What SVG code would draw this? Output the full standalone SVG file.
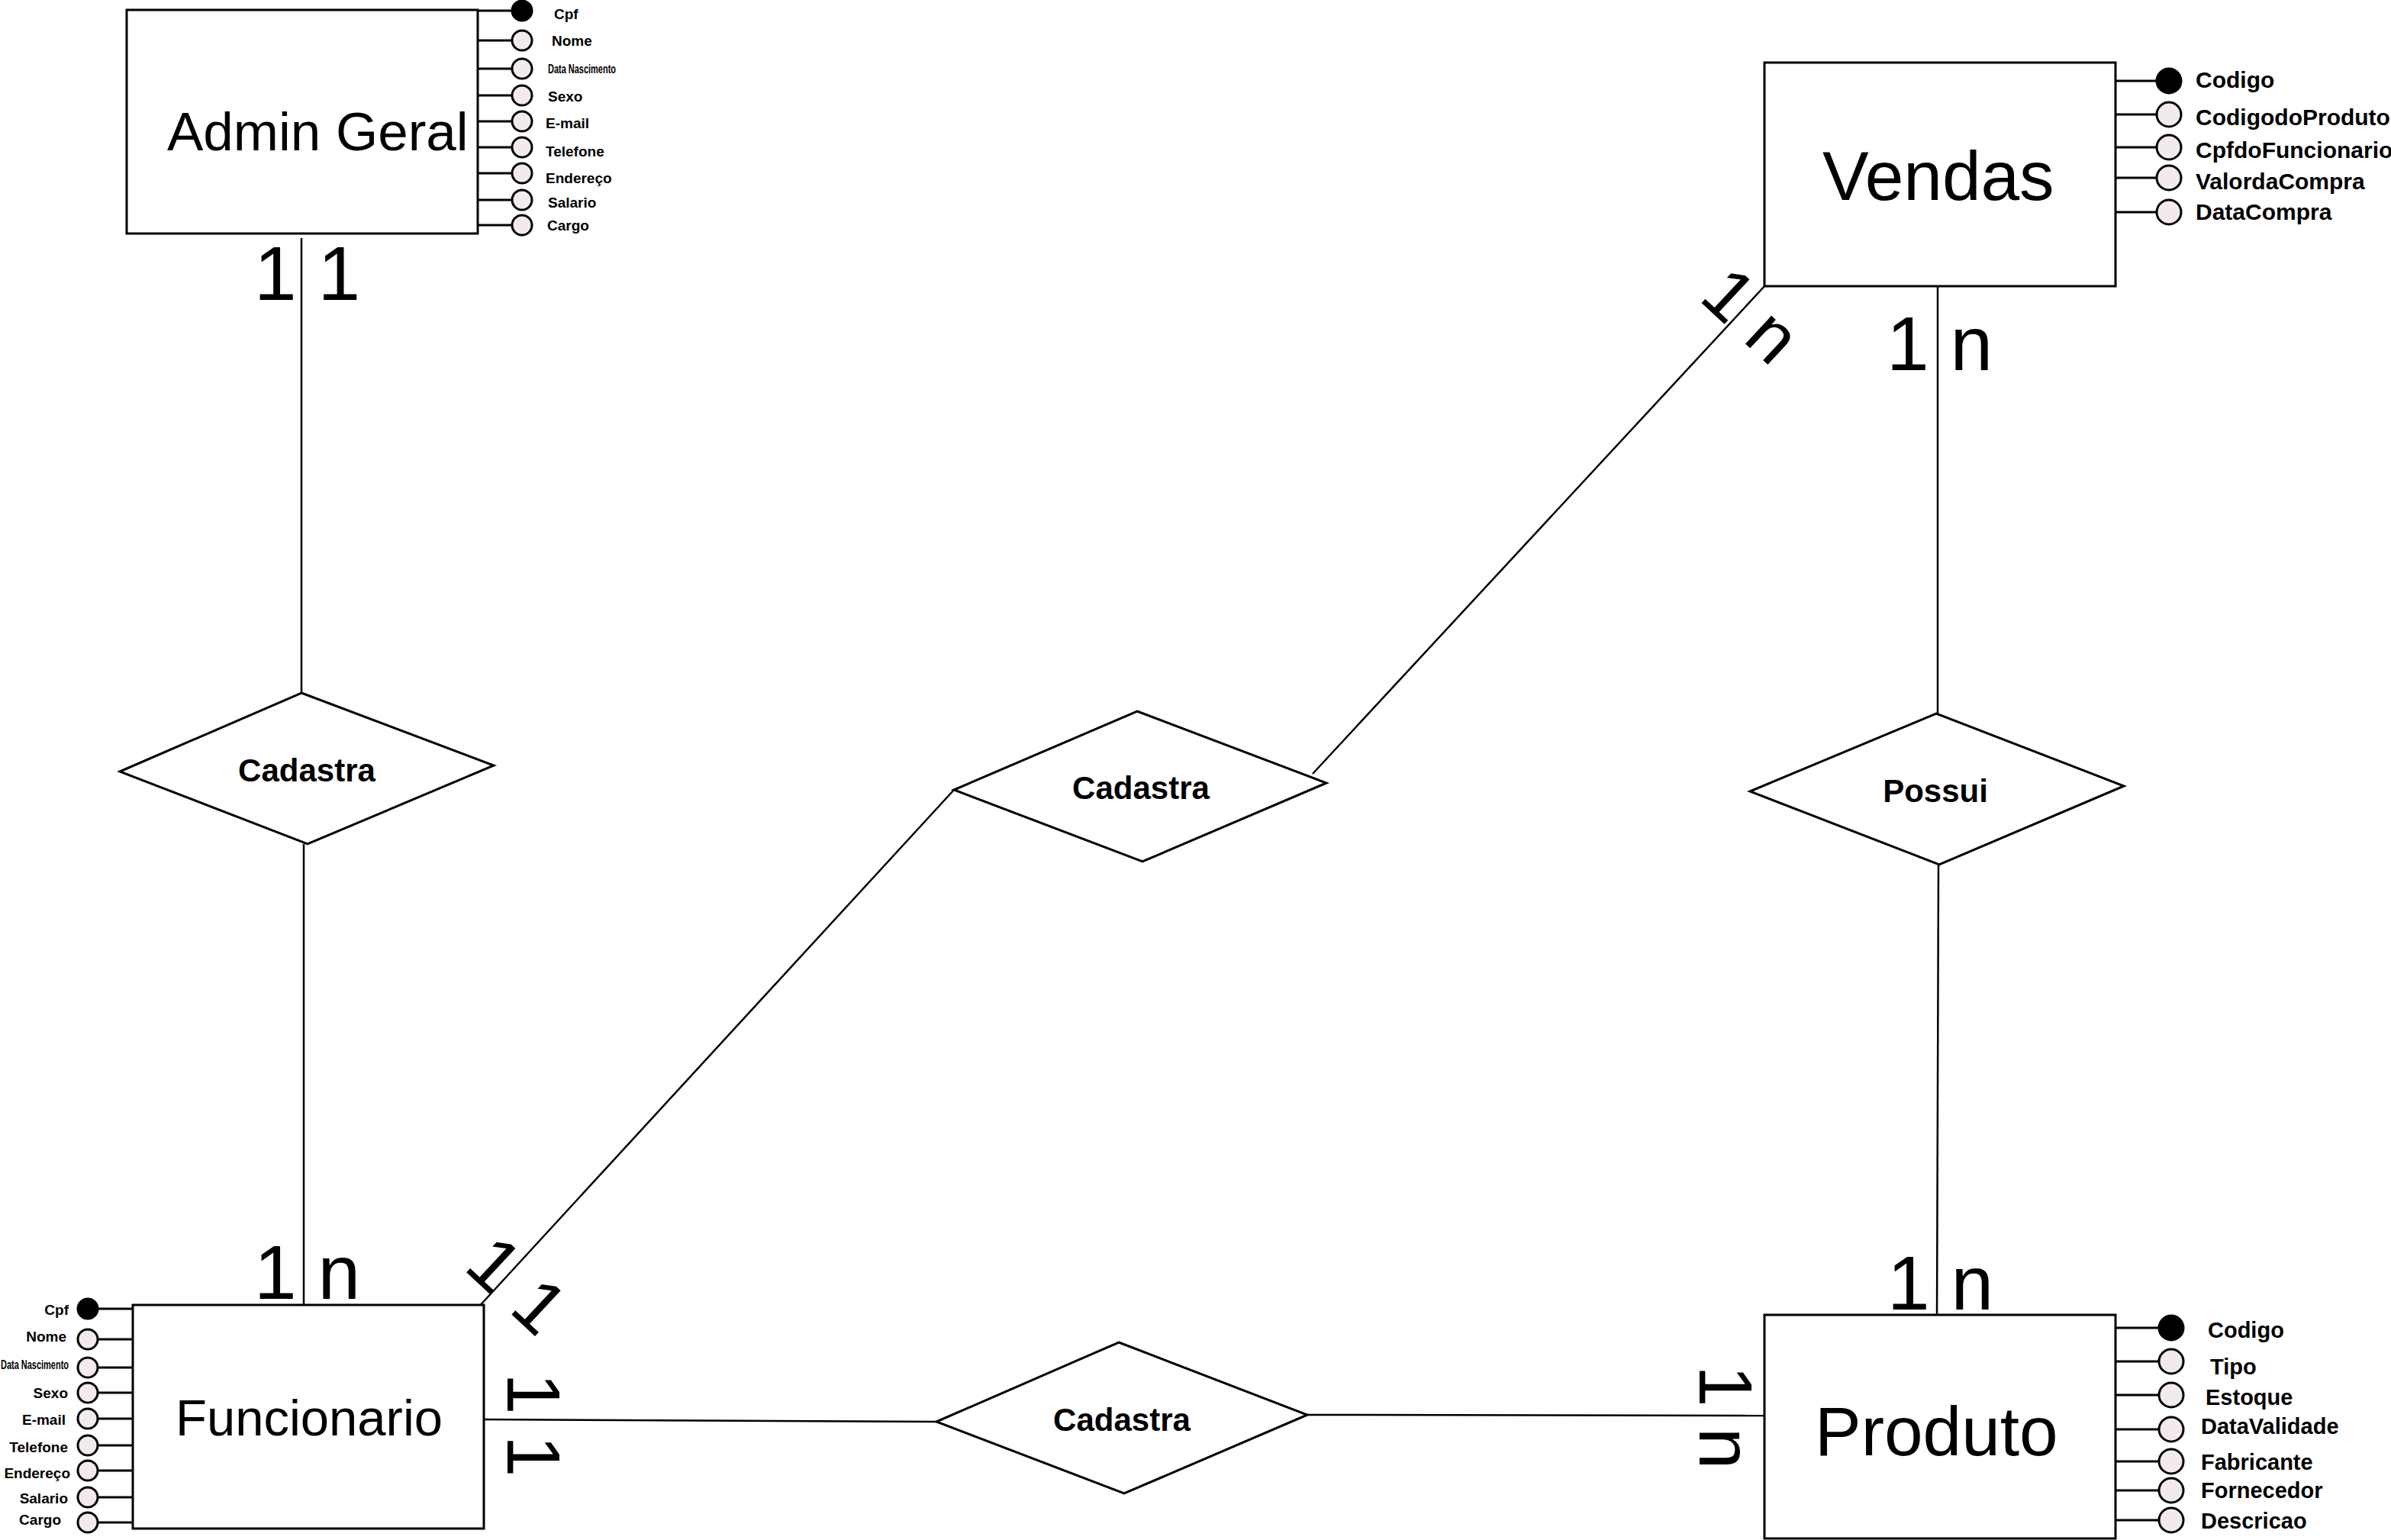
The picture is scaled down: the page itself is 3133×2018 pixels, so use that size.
<svg xmlns="http://www.w3.org/2000/svg" width="3133" height="2018" viewBox="0 0 3133 2018">
<style>
.box{fill:#fff;stroke:#000;stroke-width:3}
.dia{fill:#fff;stroke:#000;stroke-width:3}
.ln{stroke:#000;stroke-width:3;fill:none}
.con{stroke:#000;stroke-width:2.5;fill:none}
.att{fill:#f3ebeb;stroke:#000;stroke-width:3}
.key{fill:#000;stroke:#000;stroke-width:3}
.ent{font-family:"Liberation Sans",Arial,sans-serif;fill:#000}
.lbl{font-family:"Liberation Sans",Arial,sans-serif;font-weight:bold;fill:#000}
.card{font-family:"Liberation Sans",Arial,sans-serif;font-size:100px;fill:#000}
</style>
<rect width="3133" height="2018" fill="#fff"/>

<g id="connectors">
<line class="con" x1="395" y1="312" x2="395" y2="908"/>
<line class="con" x1="398" y1="1106" x2="398" y2="1710"/>
<line class="con" x1="625" y1="1715" x2="1250" y2="1035"/>
<line class="con" x1="1720" y1="1014" x2="2313" y2="374"/>
<line class="con" x1="2539" y1="375" x2="2539" y2="935"/>
<line class="con" x1="2540" y1="1133" x2="2538" y2="1734"/>
<line class="con" x1="632" y1="1860" x2="1227" y2="1863"/>
<line class="con" x1="1713" y1="1854" x2="2312" y2="1855"/>
</g>

<g id="cardinalities">
<text class="card" x="333" y="393">1 1</text>
<text class="card" x="333" y="1702">1 n</text>
<text class="card" x="2472" y="485">1 n</text>
<text class="card" x="2473" y="1716">1 n</text>
<text class="card" style="font-size:95px" text-anchor="middle" transform="translate(2293,415) rotate(43)" x="0" y="30">1 n</text>
<text class="card" style="font-size:97px" text-anchor="middle" transform="translate(676,1680) rotate(43)" x="4" y="35">1 1</text>
<text class="card" style="font-size:98px" transform="translate(665,1799) rotate(90)" x="0" y="0">1 1</text>
<text class="card" style="font-size:98px" transform="translate(2227,1789) rotate(90)" x="0" y="0">1 n</text>
</g>

<g id="admin-geral">
<rect class="box" x="166" y="13" width="460" height="293"/>
<text class="ent" x="219" y="197" font-size="71">Admin Geral</text>
<g class="attrs">
<line class="ln" x1="626" y1="14" x2="671" y2="14"/><ellipse class="key" cx="684" cy="14" rx="13" ry="13"/>
<line class="ln" x1="626" y1="53" x2="671" y2="53"/><ellipse class="att" cx="684" cy="53" rx="13" ry="13"/>
<line class="ln" x1="626" y1="90" x2="671" y2="90"/><ellipse class="att" cx="684" cy="90" rx="13" ry="13"/>
<line class="ln" x1="626" y1="125" x2="671" y2="125"/><ellipse class="att" cx="684" cy="125" rx="13" ry="13"/>
<line class="ln" x1="626" y1="159" x2="671" y2="159"/><ellipse class="att" cx="684" cy="159" rx="13" ry="13"/>
<line class="ln" x1="626" y1="193" x2="671" y2="193"/><ellipse class="att" cx="684" cy="193" rx="13" ry="13"/>
<line class="ln" x1="626" y1="227" x2="671" y2="227"/><ellipse class="att" cx="684" cy="227" rx="13" ry="13"/>
<line class="ln" x1="626" y1="262" x2="671" y2="262"/><ellipse class="att" cx="684" cy="262" rx="13" ry="13"/>
<line class="ln" x1="626" y1="295" x2="671" y2="295"/><ellipse class="att" cx="684" cy="295" rx="13" ry="13"/>
<text class="lbl" font-size="19" x="726" y="25">Cpf</text>
<text class="lbl" font-size="19" x="723" y="60">Nome</text>
<text class="lbl" font-size="17" x="718" y="96" textLength="89" lengthAdjust="spacingAndGlyphs">Data Nascimento</text>
<text class="lbl" font-size="19" x="718" y="133">Sexo</text>
<text class="lbl" font-size="19" x="715" y="168">E-mail</text>
<text class="lbl" font-size="19" x="715" y="205">Telefone</text>
<text class="lbl" font-size="19" x="715" y="240">Endereço</text>
<text class="lbl" font-size="19" x="718" y="272">Salario</text>
<text class="lbl" font-size="19" x="717" y="302">Cargo</text>
</g>
</g>

<g id="funcionario">
<rect class="box" x="174" y="1710" width="460" height="293"/>
<text class="ent" x="230" y="1881" font-size="67">Funcionario</text>
<g class="attrs">
<line class="ln" x1="128" y1="1715" x2="174" y2="1715"/><ellipse class="key" cx="115" cy="1715" rx="13" ry="13"/>
<line class="ln" x1="128" y1="1755" x2="174" y2="1755"/><ellipse class="att" cx="115" cy="1755" rx="13" ry="13"/>
<line class="ln" x1="128" y1="1792" x2="174" y2="1792"/><ellipse class="att" cx="115" cy="1792" rx="13" ry="13"/>
<line class="ln" x1="128" y1="1825" x2="174" y2="1825"/><ellipse class="att" cx="115" cy="1825" rx="13" ry="13"/>
<line class="ln" x1="128" y1="1859" x2="174" y2="1859"/><ellipse class="att" cx="115" cy="1859" rx="13" ry="13"/>
<line class="ln" x1="128" y1="1894" x2="174" y2="1894"/><ellipse class="att" cx="115" cy="1894" rx="13" ry="13"/>
<line class="ln" x1="128" y1="1927" x2="174" y2="1927"/><ellipse class="att" cx="115" cy="1927" rx="13" ry="13"/>
<line class="ln" x1="128" y1="1962" x2="174" y2="1962"/><ellipse class="att" cx="115" cy="1962" rx="13" ry="13"/>
<line class="ln" x1="128" y1="1995" x2="174" y2="1995"/><ellipse class="att" cx="115" cy="1995" rx="13" ry="13"/>
<text class="lbl" font-size="19" text-anchor="end" x="90" y="1723">Cpf</text>
<text class="lbl" font-size="19" text-anchor="end" x="87" y="1758">Nome</text>
<text class="lbl" font-size="17" x="1" y="1794" textLength="89" lengthAdjust="spacingAndGlyphs">Data Nascimento</text>
<text class="lbl" font-size="19" text-anchor="end" x="89" y="1832">Sexo</text>
<text class="lbl" font-size="19" text-anchor="end" x="86" y="1867">E-mail</text>
<text class="lbl" font-size="19" text-anchor="end" x="89" y="1903">Telefone</text>
<text class="lbl" font-size="19" text-anchor="end" x="92" y="1937">Endereço</text>
<text class="lbl" font-size="19" text-anchor="end" x="89" y="1970">Salario</text>
<text class="lbl" font-size="19" text-anchor="end" x="80" y="1998">Cargo</text>
</g>
</g>

<g id="vendas">
<rect class="box" x="2312" y="82" width="460" height="293"/>
<text class="ent" x="2388" y="262" font-size="91">Vendas</text>
<g class="attrs">
<line class="ln" x1="2772" y1="106" x2="2826" y2="106"/><ellipse class="key" cx="2842" cy="106" rx="16" ry="16"/>
<line class="ln" x1="2772" y1="150" x2="2826" y2="150"/><ellipse class="att" cx="2842" cy="150" rx="16" ry="16"/>
<line class="ln" x1="2772" y1="193" x2="2826" y2="193"/><ellipse class="att" cx="2842" cy="193" rx="16" ry="16"/>
<line class="ln" x1="2772" y1="233" x2="2826" y2="233"/><ellipse class="att" cx="2842" cy="233" rx="16" ry="16"/>
<line class="ln" x1="2772" y1="278" x2="2826" y2="278"/><ellipse class="att" cx="2842" cy="278" rx="16" ry="16"/>
<text class="lbl" font-size="30" x="2877" y="115">Codigo</text>
<text class="lbl" font-size="30" x="2877" y="164">CodigodoProduto</text>
<text class="lbl" font-size="30" x="2877" y="207">CpfdoFuncionario</text>
<text class="lbl" font-size="30" x="2877" y="248">ValordaCompra</text>
<text class="lbl" font-size="30" x="2877" y="288">DataCompra</text>
</g>
</g>

<g id="produto">
<rect class="box" x="2312" y="1723" width="460" height="293"/>
<text class="ent" x="2378" y="1907" font-size="91">Produto</text>
<g class="attrs">
<line class="ln" x1="2772" y1="1740" x2="2829" y2="1740"/><ellipse class="key" cx="2845" cy="1740" rx="16" ry="16"/>
<line class="ln" x1="2772" y1="1784" x2="2829" y2="1784"/><ellipse class="att" cx="2845" cy="1784" rx="16" ry="16"/>
<line class="ln" x1="2772" y1="1828" x2="2829" y2="1828"/><ellipse class="att" cx="2845" cy="1828" rx="16" ry="16"/>
<line class="ln" x1="2772" y1="1873" x2="2829" y2="1873"/><ellipse class="att" cx="2845" cy="1873" rx="16" ry="16"/>
<line class="ln" x1="2772" y1="1915" x2="2829" y2="1915"/><ellipse class="att" cx="2845" cy="1915" rx="16" ry="16"/>
<line class="ln" x1="2772" y1="1953" x2="2829" y2="1953"/><ellipse class="att" cx="2845" cy="1953" rx="16" ry="16"/>
<line class="ln" x1="2772" y1="1992" x2="2829" y2="1992"/><ellipse class="att" cx="2845" cy="1992" rx="16" ry="16"/>
<text class="lbl" font-size="29" x="2893" y="1753">Codigo</text>
<text class="lbl" font-size="29" x="2896" y="1801">Tipo</text>
<text class="lbl" font-size="29" x="2890" y="1841">Estoque</text>
<text class="lbl" font-size="29" x="2884" y="1879">DataValidade</text>
<text class="lbl" font-size="29" x="2884" y="1926">Fabricante</text>
<text class="lbl" font-size="29" x="2884" y="1963">Fornecedor</text>
<text class="lbl" font-size="29" x="2884" y="2003">Descricao</text>
</g>
</g>

<g id="cadastra-admin-funcionario">
<polygon class="dia" points="395,908 647,1003 403,1106 157,1011"/>
<text class="lbl" font-size="42" text-anchor="middle" x="402" y="1024">Cadastra</text>
</g>
<g id="cadastra-funcionario-vendas">
<polygon class="dia" points="1490,932 1738,1026 1497,1129 1250,1035"/>
<text class="lbl" font-size="42" text-anchor="middle" x="1495" y="1047">Cadastra</text>
</g>
<g id="cadastra-funcionario-produto">
<polygon class="dia" points="1466,1759 1713,1854 1473,1957 1227,1863"/>
<text class="lbl" font-size="42" text-anchor="middle" x="1470" y="1875">Cadastra</text>
</g>
<g id="possui">
<polygon class="dia" points="2537,935 2783,1030 2541,1133 2293,1037"/>
<text class="lbl" font-size="42" text-anchor="middle" x="2536" y="1051">Possui</text>
</g>
</svg>
